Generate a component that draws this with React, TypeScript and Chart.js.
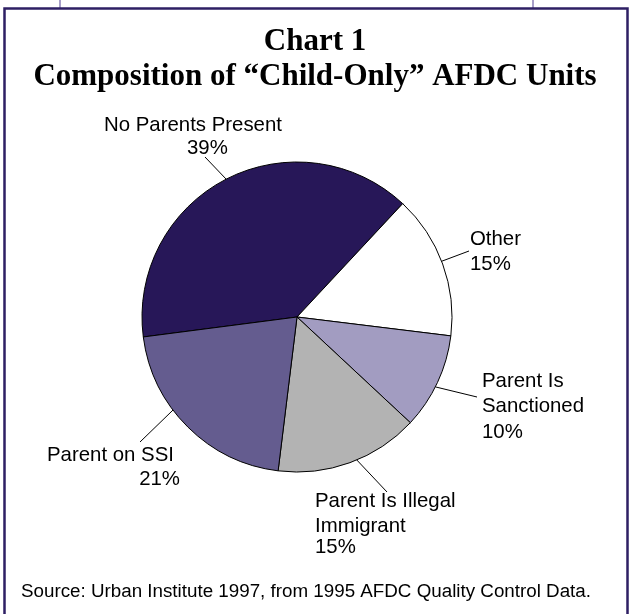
import React, { useEffect, useRef } from "react";
import { Chart, registerables } from "chart.js";

Chart.register(...registerables);

const categories = [
  "No Parents Present",
  "Other",
  "Parent Is Sanctioned",
  "Parent Is Illegal Immigrant",
  "Parent on SSI",
];
const shares = [39, 15, 10, 15, 21];
const sliceColors = ["#271758", "#FFFFFF", "#A29CC1", "#B3B3B3", "#645C8F"];

const titleLines = ["Chart 1", "Composition of \u201CChild-Only\u201D AFDC Units"];
const sourceNote = "Source: Urban Institute 1997, from 1995 AFDC Quality Control Data.";

// label text lines per slice (percent appended from data)
const labelLines = [
  ["No Parents Present"],
  ["Other"],
  ["Parent Is", "Sanctioned"],
  ["Parent Is Illegal", "Immigrant"],
  ["Parent on SSI"],
];

// layout of labels: per line [x, baselineY, align]
const labelLayout: [number, number, CanvasTextAlign][][] = [
  [[104, 131, "left"], [187, 154, "left"]],
  [[470, 245, "left"], [470, 270, "left"]],
  [[482, 387, "left"], [482, 412, "left"], [482, 438, "left"]],
  [[315, 507, "left"], [315, 532, "left"], [315, 553, "left"]],
  [[47, 461, "left"], [180, 485, "right"]],
];
// leader line: fraction along slice for start, end point near label
const leaderFrac = [0.5, 0.48, 0.55, 0.45, 0.61];
const leaderEnd: [number, number][] = [
  [205, 157],
  [469, 251],
  [477, 397],
  [387, 492],
  [140, 442],
];

const decorPlugin = {
  id: "decor",
  beforeDraw(chart: any) {
    const ctx = chart.ctx as CanvasRenderingContext2D;
    ctx.save();
    ctx.fillStyle = "#FFFFFF";
    ctx.fillRect(0, 0, chart.width, chart.height);
    // small top connector lines
    ctx.strokeStyle = "#8C80B8";
    ctx.lineWidth = 1.5;
    ctx.beginPath();
    ctx.moveTo(60, 0);
    ctx.lineTo(60, 8);
    ctx.moveTo(533, 0);
    ctx.lineTo(533, 8);
    ctx.stroke();
    // frame
    ctx.strokeStyle = "#2E1F64";
    ctx.lineWidth = 2.5;
    ctx.beginPath();
    ctx.moveTo(4.5, chart.height + 5);
    ctx.lineTo(4.5, 8.5);
    ctx.lineTo(627.5, 8.5);
    ctx.lineTo(627.5, chart.height + 5);
    ctx.stroke();
    // title
    ctx.fillStyle = "#000000";
    ctx.textAlign = "center";
    ctx.textBaseline = "alphabetic";
    ctx.font = "bold 31px 'Liberation Serif', 'Times New Roman', serif";
    ctx.fillText(titleLines[0], 315, 50);
    ctx.fillText(titleLines[1], 315, 85);
    // source
    ctx.textAlign = "left";
    ctx.font = "18.8px 'Liberation Sans', Arial, sans-serif";
    ctx.fillText(sourceNote, 21, 597);
    ctx.restore();
  },
  afterDraw(chart: any) {
    const ctx = chart.ctx as CanvasRenderingContext2D;
    const meta = chart.getDatasetMeta(0);
    ctx.save();
    ctx.strokeStyle = "#000000";
    ctx.lineWidth = 1;
    ctx.fillStyle = "#000000";
    ctx.font = "20.4px 'Liberation Sans', Arial, sans-serif";
    ctx.textBaseline = "alphabetic";
    meta.data.forEach((arc: any, i: number) => {
      const p = arc.getProps(["x", "y", "startAngle", "endAngle", "outerRadius"], true);
      const a = p.startAngle + (p.endAngle - p.startAngle) * leaderFrac[i];
      const sx = p.x + Math.cos(a) * p.outerRadius;
      const sy = p.y + Math.sin(a) * p.outerRadius;
      ctx.beginPath();
      ctx.moveTo(sx, sy);
      ctx.lineTo(leaderEnd[i][0], leaderEnd[i][1]);
      ctx.stroke();
      const lines = [...labelLines[i], shares[i] + "%"];
      lines.forEach((t, j) => {
        const [lx, ly, al] = labelLayout[i][j];
        ctx.textAlign = al;
        ctx.fillText(t, lx, ly);
      });
    });
    ctx.restore();
  },
};

export default function App() {
  const ref = useRef<HTMLCanvasElement | null>(null);
  useEffect(() => {
    if (!ref.current) return;
    const chart = new Chart(ref.current, {
      type: "pie",
      data: {
        labels: categories,
        datasets: [
          {
            data: shares,
            backgroundColor: sliceColors,
            borderColor: "#000000",
            borderWidth: 1,
          },
        ],
      },
      options: {
        responsive: false,
        animation: false,
        rotation: -97.4,
        radius: 155,
        layout: { padding: { left: 0, right: 36, top: 20, bottom: 0 } },
        plugins: {
          legend: { display: false },
          title: { display: false },
          tooltip: { enabled: false },
        },
      },
      plugins: [decorPlugin],
    });
    return () => chart.destroy();
  }, []);
  return (
    <div style={{ position: "absolute", left: 0, top: 0, width: 630, height: 614, background: "#fff" }}>
      <canvas ref={ref} width={630} height={614} style={{ display: "block" }} />
    </div>
  );
}
